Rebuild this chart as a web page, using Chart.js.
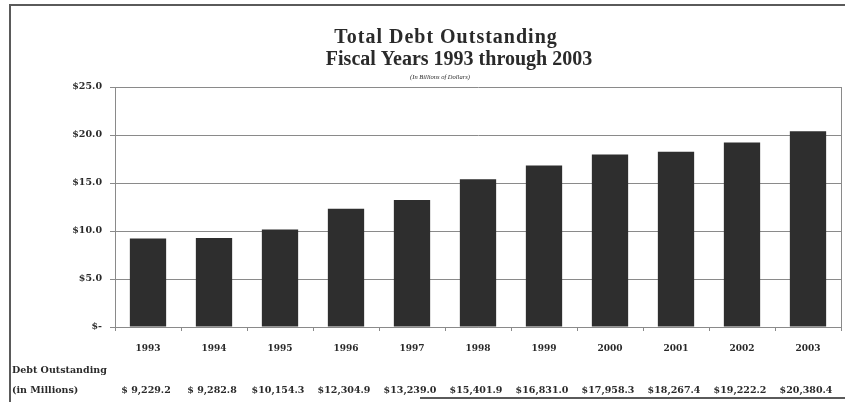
<!DOCTYPE html>
<html>
<head>
<meta charset="utf-8">
<script src="https://cdn.jsdelivr.net/npm/chart.js@4/dist/chart.umd.min.js"></script>
<style>
  html, body { margin: 0; padding: 0; background: #ffffff; }
  #wrap { width: 845px; height: 402px; position: relative; }
</style>
</head>
<body>
<div id="wrap"><canvas id="c" width="845" height="402"></canvas></div>
<script>
// Fiscal years and debt outstanding (in millions of dollars)
const years = ['1993', '1994', '1995', '1996', '1997', '1998', '1999', '2000', '2001', '2002', '2003'];
const debtMillions = [9229.2, 9282.8, 10154.3, 12304.9, 13239.0, 15401.9, 16831.0, 17958.3, 18267.4, 19222.2, 20380.4];
const yTicks = [0, 5, 10, 15, 20, 25];
const titleLines = ['Total Debt Outstanding', 'Fiscal Years 1993 through 2003'];
const subtitle = '(In Billions of Dollars)';
const rowLabels = ['Debt Outstanding', '(in Millions)'];

const debtBillions = debtMillions.map(v => v / 1000);

const SERIF = '"Liberation Serif", "DejaVu Serif", serif';
const WIDE_SERIF = '"DejaVu Serif", "Liberation Serif", serif';
const SMALL = 9.5;
const INK = '#2a2a2a';

function fmtMillions(v) {
  const s = v.toLocaleString('en-US', { minimumFractionDigits: 1, maximumFractionDigits: 1 });
  return '$' + (v < 10000 ? ' ' : '') + s;
}

const decor = {
  id: 'decor',
  beforeDraw(chart) {
    const ctx = chart.ctx;
    ctx.save();
    ctx.fillStyle = '#ffffff';
    ctx.fillRect(0, 0, chart.width, chart.height);
    ctx.restore();
  },
  afterDraw(chart) {
    const ctx = chart.ctx;
    const area = chart.chartArea;
    const x = chart.scales.x;
    ctx.save();

    // outer frame
    ctx.strokeStyle = '#5a5a5a';
    ctx.lineWidth = 2;
    ctx.beginPath();
    ctx.moveTo(10, 402);
    ctx.lineTo(10, 5);
    ctx.lineTo(845, 5);
    ctx.moveTo(420, 398);
    ctx.lineTo(845, 398);
    ctx.stroke();

    // right edge of the plot box
    ctx.strokeStyle = '#8a8a8a';
    ctx.lineWidth = 1;
    ctx.beginPath();
    ctx.moveTo(area.right + 0.5, area.top);
    ctx.lineTo(area.right + 0.5, area.bottom);
    ctx.stroke();

    // titles
    ctx.fillStyle = INK;
    ctx.textAlign = 'center';
    ctx.textBaseline = 'middle';
    ctx.font = 'bold 20px ' + SERIF;
    ctx.letterSpacing = '1px';
    ctx.fillText(titleLines[0], 446, 38);
    ctx.letterSpacing = '0px';
    ctx.fillText(titleLines[1], 459, 60);
    ctx.font = 'italic 6.5px ' + SERIF;
    ctx.fillText(subtitle, 440, 77);

    // data table under the axis
    ctx.font = 'bold ' + SMALL + 'px ' + WIDE_SERIF;
    ctx.textAlign = 'left';
    ctx.fillText(rowLabels[0], 12, 371);
    ctx.fillText(rowLabels[1], 12, 391);
    ctx.textAlign = 'center';
    debtMillions.forEach((v, i) => {
      ctx.fillText(fmtMillions(v), x.getPixelForValue(i) - 2, 391);
    });
    ctx.restore();
  }
};

new Chart(document.getElementById('c'), {
  type: 'bar',
  data: {
    labels: years,
    datasets: [{
      data: debtBillions,
      backgroundColor: '#2e2e2e',
      borderWidth: 0,
      barPercentage: 0.55,
      categoryPercentage: 1.0
    }]
  },
  options: {
    responsive: false,
    animation: false,
    devicePixelRatio: 1,
    layout: { padding: { top: 87, right: 4, left: 0, bottom: 0 } },
    plugins: { legend: { display: false }, title: { display: false }, tooltip: { enabled: false } },
    scales: {
      x: {
        offset: true,
        grid: { display: true, drawOnChartArea: false, drawTicks: true, tickLength: 4, color: '#8a8a8a', offset: true },
        border: { display: true, color: '#8a8a8a' },
        ticks: { color: INK, font: { family: WIDE_SERIF, size: 9, weight: 'bold' }, padding: 12, maxRotation: 0 },
        afterFit(scale) { scale.height = 75; }
      },
      y: {
        min: 0,
        max: 25,
        afterBuildTicks(scale) { scale.ticks = yTicks.map(v => ({ value: v })); },
        grid: { color: '#8a8a8a', lineWidth: 1, tickLength: 5, drawTicks: true },
        border: { display: true, color: '#8a8a8a' },
        ticks: {
          color: INK,
          font: { family: WIDE_SERIF, size: SMALL, weight: 'bold' },
          padding: 8,
          callback: v => v === 0 ? '$-' : '$' + Number(v).toFixed(1)
        },
        afterFit(scale) { scale.width = 115; }
      }
    }
  },
  plugins: [decor]
});
</script>
</body>
</html>
